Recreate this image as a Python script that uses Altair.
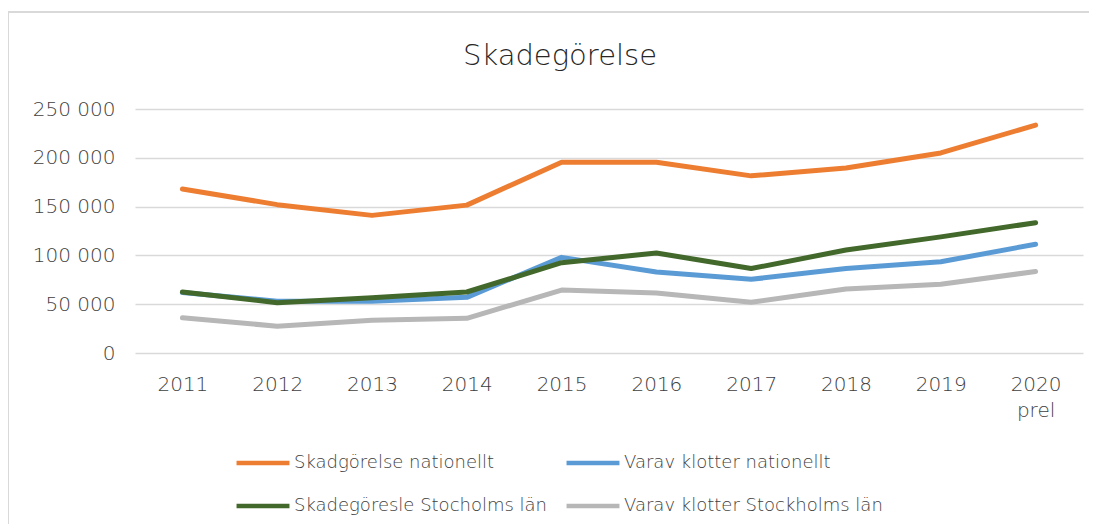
import altair as alt
import pandas as pd

years = ["2011", "2012", "2013", "2014", "2015", "2016", "2017", "2018", "2019", "2020 prel"]
series_names = [
    "Skadgörelse nationellt",
    "Varav klotter nationellt",
    "Skadegöresle Stocholms län",
    "Varav klotter Stockholms län",
]
skad_nat = [168000, 152000, 141000, 151500, 195500, 195500, 181500, 189500, 205000, 233500]
klotter_nat = [62000, 53000, 53000, 57000, 98000, 83000, 75500, 86500, 93500, 111500]
skad_sthlm = [62500, 51500, 56500, 62500, 92500, 102500, 86500, 105500, 119000, 133500]
klotter_sthlm = [36000, 27500, 33500, 35500, 64500, 61500, 52000, 65500, 70500, 83500]
colors = ["#ED7D31", "#5B9BD5", "#43682B", "#B7B7B7"]

rows = []
for name, vals in zip(series_names, [skad_nat, klotter_nat, skad_sthlm, klotter_sthlm]):
    for i, (y, v) in enumerate(zip(years, vals)):
        rows.append({"year": y, "series": name, "value": v, "idx": i})
df = pd.DataFrame(rows)

FONT = "DejaVu Sans"
W = 200

lines = alt.Chart(df).mark_line(strokeWidth=5, strokeCap="round", strokeJoin="round").encode(
    x=alt.X("year:N", sort=years, title=None,
            scale=alt.Scale(type="point", padding=0.5),
            axis=alt.Axis(labelAngle=0, labelExpr="split(datum.label, ' ')",
                          labelFontSize=20, labelPadding=21, labelLineHeight=26,
                          ticks=False, domain=False, grid=False)),
    y=alt.Y("value:Q", title=None,
            scale=alt.Scale(domain=[0, 250000]),
            axis=alt.Axis(values=[0, 50000, 100000, 150000, 200000, 250000],
                          labelExpr="replace(format(datum.value, ',d'), ',', ' ')",
                          labelFontSize=20, labelPadding=20, ticks=False, domain=False,
                          gridColor="#D9D9D9", gridWidth=1.5)),
    color=alt.Color("series:N", scale=alt.Scale(domain=series_names, range=colors),
                    legend=alt.Legend(title=None, orient="none", legendX=99, legendY=325,
                                      columns=2, direction="horizontal",
                                      symbolType="stroke", symbolSize=2800, symbolStrokeWidth=4.5,
                                      labelFontSize=18, labelOffset=2,
                                      rowPadding=5, columnPadding=9, labelLimit=400)),
    order=alt.Order("idx:Q"),
)

frame_left = alt.Chart(df).mark_rule(color="#D9D9D9", strokeWidth=1.5).encode(
    x=alt.value(-127), y=alt.value(-97), y2=alt.value(440)
)
frame_top = alt.Chart(df).mark_rule(color="#D9D9D9", strokeWidth=1.5).encode(
    x=alt.value(-127), x2=alt.value(1000), y=alt.value(-97)
)

chart = alt.layer(frame_left, frame_top, lines).properties(
    width=948,
    height=244,
    title=alt.TitleParams("Skadegörelse", fontSize=29, font=FONT, fontWeight=W,
                          color="#262626", anchor="middle", dx=-49, offset=-60),
    autosize=alt.AutoSizeParams(type="none"),
    padding={"left": 127, "top": 101, "right": 6, "bottom": 171},
).configure(font=FONT).configure_axis(
    labelFont=FONT, labelColor="#404040", labelFontWeight=W
).configure_legend(
    labelFont=FONT, labelColor="#404040", labelFontWeight=W
).configure_view(stroke=None)

chart.save("out.html", embed_options={"renderer": "svg", "actions": False})
